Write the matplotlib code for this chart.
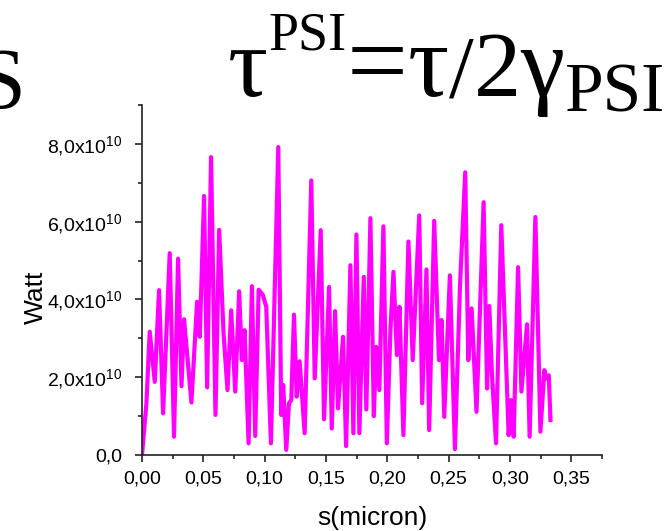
import matplotlib
matplotlib.use("Agg")
import matplotlib.pyplot as plt
from matplotlib.ticker import MultipleLocator, FuncFormatter

plt.rcParams['font.family'] = ['Liberation Sans', 'DejaVu Sans']
plt.rcParams['mathtext.fontset'] = 'custom'
plt.rcParams['mathtext.rm'] = 'Liberation Serif'
plt.rcParams['mathtext.sf'] = 'Liberation Sans'

# positions along s (micron) and power (in units of 1e10 W)
s_micron = [0.0, 0.0036, 0.0063, 0.0104, 0.0139, 0.0172, 0.0226, 0.0261, 0.0294,
            0.0322, 0.0343, 0.0403, 0.0449, 0.0471, 0.0506, 0.0531, 0.0563, 0.0599,
            0.0629, 0.0665, 0.0697, 0.0727, 0.0760, 0.0792, 0.0814, 0.0836, 0.0869,
            0.0896, 0.0923, 0.0951, 0.0986, 0.1013, 0.1051, 0.1111, 0.1135, 0.1151,
            0.1176, 0.1198, 0.1217, 0.1239, 0.1261, 0.1285, 0.1326, 0.1380, 0.1408,
            0.1457, 0.1484, 0.1525, 0.1547, 0.1574, 0.1598, 0.1639, 0.1664, 0.1699,
            0.1723, 0.1748, 0.1772, 0.1808, 0.1829, 0.1862, 0.1890, 0.1909, 0.1935,
            0.1968, 0.1996, 0.2025, 0.2050, 0.2078, 0.2099, 0.2131, 0.2172, 0.2207,
            0.2260, 0.2284, 0.2319, 0.2341, 0.2382, 0.2421, 0.2442, 0.2464, 0.2510,
            0.2551, 0.2592, 0.2635, 0.2660, 0.2687, 0.2727, 0.2785, 0.2813, 0.2831,
            0.2853, 0.2886, 0.2929, 0.2989, 0.3009, 0.3030, 0.3066, 0.3093, 0.3139,
            0.3160, 0.3207, 0.3248, 0.3280, 0.3296, 0.3316, 0.3330]
power_e10 = [0.0, 1.33, 3.17, 1.88, 4.24, 1.07, 5.19, 0.47, 5.05,
             1.77, 3.49, 1.35, 3.94, 3.04, 6.66, 1.74, 7.66, 1.03,
             5.79, 3.12, 1.67, 3.72, 1.63, 4.21, 2.44, 3.21, 0.30,
             4.34, 0.49, 4.25, 4.11, 3.81, 0.30, 7.92, 1.03, 1.80,
             0.13, 1.33, 1.41, 3.61, 1.50, 2.41, 0.56, 7.06, 1.97,
             5.78, 0.92, 4.32, 0.68, 3.70, 1.20, 3.04, 0.23, 4.88,
             0.56, 5.67, 0.56, 4.58, 1.17, 6.09, 1.00, 2.78, 1.67,
             5.88, 0.30, 3.21, 4.71, 2.57, 3.81, 0.51, 5.49, 2.44,
             6.16, 1.33, 4.77, 0.64, 6.02, 2.44, 3.47, 0.98, 4.62,
             0.15, 4.32, 7.27, 2.44, 3.77, 1.11, 6.50, 1.71, 3.83,
             2.05, 0.30, 5.91, 0.51, 1.41, 0.47, 4.83, 1.63, 3.36,
             0.47, 6.12, 0.60, 2.18, 1.97, 2.05, 0.90]
power = [p * 1e10 for p in power_e10]

W, H = 667, 531
fig = plt.figure(figsize=(W / 100, H / 100), dpi=100)
ax = fig.add_axes([142 / W, 76 / H, 460 / W, 350 / H])

ax.plot(s_micron, power, color='#FF00FF', linewidth=3, solid_joinstyle='round')

ax.set_xlim(0, 0.375)
ax.set_ylim(0, 9e10)
ax.xaxis.set_major_locator(MultipleLocator(0.05))
ax.xaxis.set_minor_locator(MultipleLocator(0.025))
ax.yaxis.set_major_locator(MultipleLocator(2e10))
ax.yaxis.set_minor_locator(MultipleLocator(1e10))

ax.xaxis.set_major_formatter(FuncFormatter(lambda v, p: f"{v:.2f}".replace('.', ',')))


def y_fmt(v, p):
    if v == 0:
        return "0,0"
    m = v / 1e10
    return f"{m:.1f}".replace('.', ',') + r"x10$^{\mathsf{10}}$"


ax.yaxis.set_major_formatter(FuncFormatter(y_fmt))

for side in ['top', 'right']:
    ax.spines[side].set_visible(False)
for side in ['left', 'bottom']:
    ax.spines[side].set_color('#222222')
    ax.spines[side].set_linewidth(1.2)

ax.tick_params(which='major', direction='out', length=5, width=1.2, labelsize=14, color='#222222')
ax.tick_params(axis='y', which='major', pad=9)
ax.tick_params(axis='x', which='major', pad=6)
ax.tick_params(which='minor', direction='out', length=3, width=1.2, color='#222222')

ax.set_xlabel('s(micron)', fontsize=19)
ax.set_ylabel('Watt', fontsize=19)
ax.yaxis.set_label_coords(-0.205, 0.45)
ax.xaxis.set_label_coords(0.5, -0.145)

# big formula at the top: pieces (text, size, baseline shift in px)
formula = [('τ', 72, 0), ('PSI', 39, 46), ('=', 78, 0), ('τ', 74, 0),
           ('/', 64, 0), ('2', 68, 0), ('γ', 72, 0), ('PSI', 50, -16)]
renderer = fig.canvas.get_renderer()
x_px = 228
for txt, size, dy in formula:
    t = fig.text(x_px / W, (H - 96 + dy) / H, txt, family='Liberation Serif',
                 fontsize=size, ha='left', va='baseline')
    x_px += t.get_window_extent(renderer).width

fig.text(25 / W, 1 - 108 / H, 'S', family='Liberation Serif', fontsize=62,
         ha='right', va='baseline')

fig.savefig('out.png', dpi=100)
